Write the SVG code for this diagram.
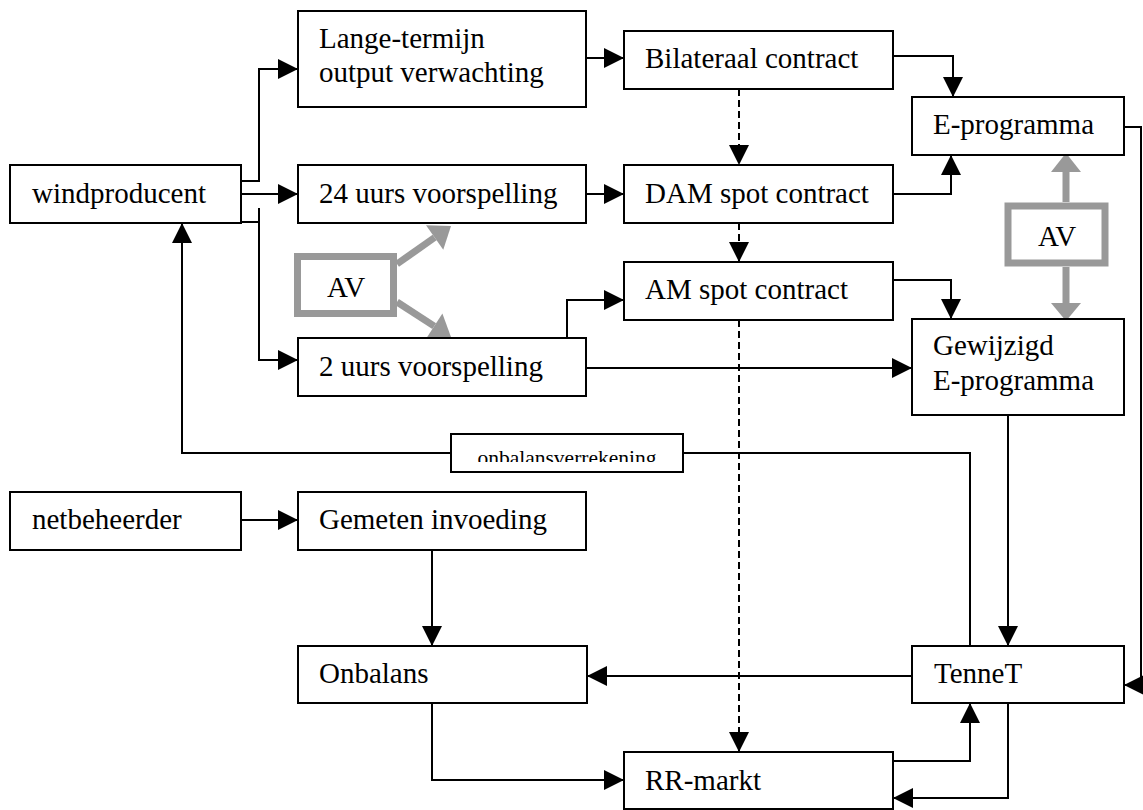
<svg xmlns="http://www.w3.org/2000/svg" width="1143" height="810" viewBox="0 0 1143 810">
  <style>
    .box { fill: #fff; stroke: #000; stroke-width: 2; }
    .lbl { font-family: "Liberation Serif", "Times New Roman", serif; font-size: 29px; fill: #000; }
    .small { font-family: "Liberation Serif", "Times New Roman", serif; font-size: 21.5px; fill: #000; }
    .av { fill: #fff; stroke: #999; stroke-width: 7; }
    .wire { fill: none; stroke: #000; stroke-width: 2; marker-end: url(#arrow); }
    .dash { stroke-dasharray: 7 4; }
    .grey { fill: none; stroke: #999; stroke-width: 7; }
  </style>
  <defs>
    <marker id="arrow" viewBox="0 0 20 20" refX="20" refY="10" markerWidth="20" markerHeight="20" markerUnits="userSpaceOnUse" orient="auto">
      <path d="M0,0 L20,10 L0,20 z" fill="#000"/>
    </marker>
    <clipPath id="clipLabel">
      <rect x="452" y="435" width="230" height="27"/>
    </clipPath>
  </defs>

  <rect width="1143" height="810" fill="#fff"/>

  <!-- connectors -->
  <g id="connectors">
    <path class="wire" d="M241,181 H259 V69 H298"/>
    <path class="wire" d="M241,194 H298"/>
    <path class="wire" d="M241,222 H259 M259,208 V360 H298"/>
    <path class="wire" d="M586,58 H624"/>
    <path class="wire" d="M586,194 H624"/>
    <path class="wire dash" d="M739,89 V165"/>
    <path class="wire dash" d="M739,223 V262"/>
    <path class="wire dash" d="M739,320 V752"/>
    <path class="wire" d="M893,56 H953 V97"/>
    <path class="wire" d="M893,194 H951 V155"/>
    <path class="wire" d="M893,280 H951 V319"/>
    <path class="wire" d="M567,338 V300 H624"/>
    <path class="wire" d="M586,368 H912"/>
    <path class="wire" d="M1124,127 H1141 V685 H1124"/>
    <path class="wire" d="M970,646 V453 H683 M451,453 H182 V223"/>
    <path class="wire" d="M1008,415 V646"/>
    <path class="wire" d="M912,676 H587"/>
    <path class="wire" d="M241,520 H298"/>
    <path class="wire" d="M432,550 V646"/>
    <path class="wire" d="M432,703 V780 H624"/>
    <path class="wire" d="M893,761 H970 V703"/>
    <path class="wire" d="M1008,703 V798 H893"/>

    <!-- grey AV arrows -->
    <path class="grey" d="M397,264 L434.6,237.5"/>
    <polygon fill="#999" points="0,0 -20,-15 -20,15" transform="translate(451,226) rotate(-35.1)"/>
    <path class="grey" d="M397,302 L434.2,326.1"/>
    <polygon fill="#999" points="0,0 -20,-15 -20,15" transform="translate(451,337) rotate(33)"/>
    <path class="grey" d="M1066,202 V172"/>
    <polygon fill="#999" points="1051,172 1081,172 1066,153"/>
    <path class="grey" d="M1066,267 V303"/>
    <polygon fill="#999" points="1051,303 1081,303 1066,321"/>
  </g>

  <g id="windproducent">
    <rect class="box" x="10" y="165" width="231" height="58"/>
    <text class="lbl" x="32" y="203">windproducent</text>
  </g>
  <g id="lange-termijn">
    <rect class="box" x="298" y="11" width="288" height="96"/>
    <text class="lbl" x="319" y="48">Lange-termijn</text>
    <text class="lbl" x="319" y="82">output verwachting</text>
  </g>
  <g id="bilateraal">
    <rect class="box" x="624" y="31" width="269" height="58"/>
    <text class="lbl" x="645" y="68">Bilateraal contract</text>
  </g>
  <g id="e-programma">
    <rect class="box" x="912" y="97" width="212" height="58"/>
    <text class="lbl" x="933" y="134">E-programma</text>
  </g>
  <g id="voorspelling-24">
    <rect class="box" x="298" y="165" width="288" height="58"/>
    <text class="lbl" x="319" y="203">24 uurs voorspelling</text>
  </g>
  <g id="dam-spot">
    <rect class="box" x="624" y="165" width="269" height="58"/>
    <text class="lbl" x="645" y="203">DAM spot contract</text>
  </g>
  <g id="am-spot">
    <rect class="box" x="624" y="262" width="269" height="58"/>
    <text class="lbl" x="645" y="299">AM spot contract</text>
  </g>
  <g id="voorspelling-2">
    <rect class="box" x="298" y="338" width="288" height="58"/>
    <text class="lbl" x="319" y="376">2 uurs voorspelling</text>
  </g>
  <g id="gewijzigd">
    <rect class="box" x="912" y="319" width="212" height="96"/>
    <text class="lbl" x="933" y="355">Gewijzigd</text>
    <text class="lbl" x="933" y="390">E-programma</text>
  </g>
  <g id="av-left">
    <rect class="av" x="297.5" y="256.5" width="96" height="57"/>
    <text class="lbl" x="346" y="297" text-anchor="middle">AV</text>
  </g>
  <g id="av-right">
    <rect class="av" x="1008" y="206" width="97" height="57"/>
    <text class="lbl" x="1057" y="246" text-anchor="middle">AV</text>
  </g>
  <g id="onbalansverrekening">
    <rect class="box" x="451" y="434" width="232" height="38"/>
    <text class="small" x="567" y="465" text-anchor="middle" clip-path="url(#clipLabel)">onbalansverrekening</text>
  </g>
  <g id="netbeheerder">
    <rect class="box" x="10" y="492" width="231" height="58"/>
    <text class="lbl" x="32" y="529">netbeheerder</text>
  </g>
  <g id="gemeten">
    <rect class="box" x="298" y="492" width="288" height="58"/>
    <text class="lbl" x="319" y="529">Gemeten invoeding</text>
  </g>
  <g id="onbalans">
    <rect class="box" x="298" y="646" width="289" height="57"/>
    <text class="lbl" x="319" y="683">Onbalans</text>
  </g>
  <g id="tennet">
    <rect class="box" x="912" y="646" width="212" height="57"/>
    <text class="lbl" x="934" y="683">TenneT</text>
  </g>
  <g id="rr-markt">
    <rect class="box" x="624" y="752" width="269" height="57"/>
    <text class="lbl" x="645" y="790">RR-markt</text>
  </g>
</svg>
